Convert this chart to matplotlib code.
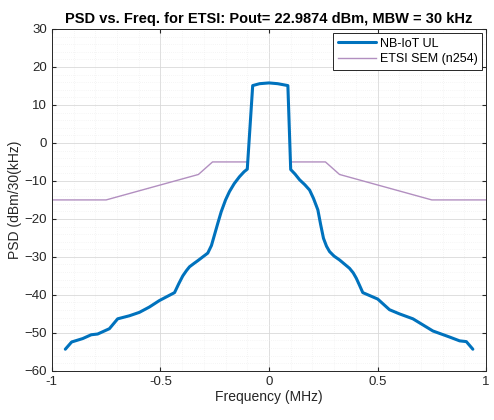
import numpy as np
import matplotlib
matplotlib.use("Agg")
import matplotlib.pyplot as plt
from matplotlib.ticker import MultipleLocator

# Measured NB-IoT uplink PSD (MHz, dBm/30kHz)
freq_mhz = [-0.938, -0.909, -0.858, -0.819, -0.789, -0.735, -0.697, -0.643, -0.597,
            -0.551, -0.505, -0.435, -0.415, -0.397, -0.380, -0.366, -0.345, -0.328,
            -0.282, -0.265, -0.251, -0.235, -0.220, -0.200, -0.182, -0.160, -0.136,
            -0.115, -0.100, -0.075, -0.043, 0.0, 0.040, 0.087, 0.100,
            0.120, 0.141, 0.165, 0.187, 0.205, 0.225, 0.238, 0.251, 0.265, 0.279,
            0.300, 0.325, 0.371, 0.388, 0.402, 0.418, 0.432, 0.501,
            0.555, 0.601, 0.663, 0.755, 0.832, 0.878, 0.909, 0.939]
psd_dbm = [-54.3, -52.4, -51.5, -50.5, -50.3, -48.9, -46.3, -45.5, -44.6,
           -43.2, -41.5, -39.4, -37.0, -35.0, -33.6, -32.6, -31.7, -31.0,
           -29.0, -27.0, -24.2, -21.0, -18.1, -15.0, -12.8, -10.7, -8.9,
           -7.6, -6.9, 15.1, 15.6, 15.8, 15.6, 15.1, -7.0,
           -8.2, -9.7, -11.0, -12.4, -14.6, -17.6, -21.5, -25.1, -27.2, -28.6,
           -29.8, -30.8, -33.0, -34.2, -35.6, -37.6, -39.4, -41.1,
           -43.9, -45.0, -46.3, -49.5, -51.1, -52.1, -52.3, -54.3]

# ETSI spectrum emission mask, one branch per side of the carrier
sem_freq = [-1.0, -0.75, -0.325, -0.26, -0.1, np.nan, 0.1, 0.26, 0.325, 0.75, 1.0]
sem_level = [-15, -15, -8.3, -5, -5, np.nan, -5, -5, -8.3, -15, -15]

plt.rcParams['font.family'] = ['Liberation Sans', 'DejaVu Sans']

fig = plt.figure(figsize=(4.94, 4.2), dpi=100)
ax = fig.add_axes([0.105, 0.117, 0.879, 0.814])

ax.plot(sem_freq, sem_level, color='#b28fc0', lw=1.0, label='ETSI SEM (n254)', zorder=2)
ax.plot(freq_mhz, psd_dbm, color='#0072BD', lw=2.2, label='NB-IoT UL', zorder=3,
        solid_joinstyle='round', solid_capstyle='round')

ax.set_xlim(-1, 1)
ax.set_ylim(-60, 30)
ax.set_xticks([-1, -0.5, 0, 0.5, 1])
ax.set_xticklabels(['-1', '-0.5', '0', '0.5', '1'])
ax.xaxis.set_minor_locator(MultipleLocator(0.1))
ax.yaxis.set_major_locator(MultipleLocator(10))
ax.yaxis.set_minor_locator(MultipleLocator(2))

ax.grid(which='major', color='#d9d9d9', lw=0.6)
ax.grid(which='minor', color='#ececec', lw=0.5, ls=(0, (1, 2)))
ax.set_axisbelow(True)

ax.tick_params(which='both', direction='in', top=True, right=True,
               labelsize=9.5, colors='#262626', length=3)
ax.tick_params(which='minor', length=0)
for s in ax.spines.values():
    s.set_color('#262626')
    s.set_linewidth(0.7)

ax.set_title('PSD vs. Freq. for ETSI: Pout= 22.9874 dBm, MBW = 30 kHz',
             fontsize=10.5, fontweight='bold', color='black', pad=4)
ax.set_xlabel('Frequency (MHz)', fontsize=10, color='#262626', labelpad=2)
ax.set_ylabel('PSD (dBm/30(kHz)', fontsize=10, color='#262626', labelpad=2)

handles, labels = ax.get_legend_handles_labels()
leg = ax.legend(handles[::-1], labels[::-1], loc='upper right', fontsize=9,
                frameon=True, fancybox=False, framealpha=1, edgecolor='#262626',
                borderpad=0.4, handlelength=3.0, handletextpad=0.3,
                labelspacing=0.3, borderaxespad=0.3)
leg.get_frame().set_linewidth(0.7)

fig.savefig('out.png', dpi=100)
